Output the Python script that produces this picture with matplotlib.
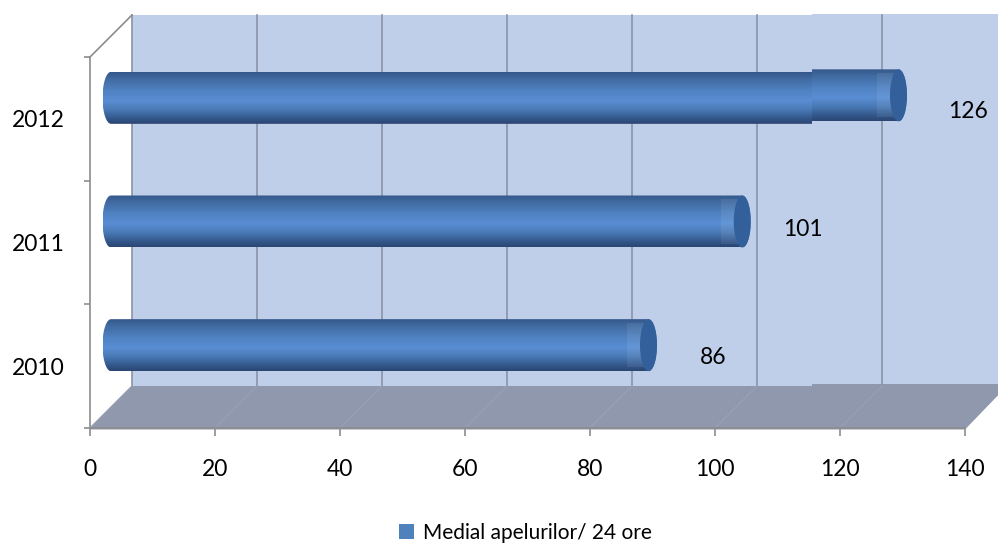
import numpy as np
import matplotlib
matplotlib.use('Agg')
import matplotlib.pyplot as plt
from matplotlib.colors import LinearSegmentedColormap
from matplotlib.patches import Ellipse, PathPatch, Patch, Polygon, Rectangle
from matplotlib.path import Path

plt.rcParams['font.family'] = ['Lato', 'DejaVu Sans']

years = ['2010', '2011', '2012']
apeluri = [86, 101, 126]
x_ticks = [0, 20, 40, 60, 80, 100, 120, 140]
legend_label = 'Medial apelurilor/ 24 ore'

W, H = 998, 543
# front plane of the 3D box, in pixels
left, right, top, bottom = 90, 965, 57, 428
px_x = (right - left) / 140
px_y = (bottom - top) / 3
# box depth and cylinder sizes converted to data units
depth_x = 42 / px_x
depth_y = 42 / px_y
cyl_h = 26 / px_y
cyl_w = 8.5 / px_x
seam = (812 - left) / px_x
seam_shift = 2.5 / px_y

wall_col = '#c0cfe9'
floor_col = '#8f98ad'
grid_col = '#8a94a6'
axis_col = '#8c8c8c'

shade = LinearSegmentedColormap.from_list('cyl', [
    (0.0, '#35588a'), (0.12, '#40699f'), (0.35, '#4f82c2'), (0.55, '#5a8ed4'),
    (0.72, '#4a7ab6'), (0.88, '#345a8e'), (1.0, '#2a4572')])
grad = np.linspace(0, 1, 128).reshape(-1, 1)

fig = plt.figure(figsize=(W / 100, H / 100), dpi=100)
ax = fig.add_axes([left / W, 1 - bottom / H, (right - left) / W, (bottom - top) / H])
ax.patch.set_visible(False)

# back wall, runs off the right edge
x_end = 140 + depth_x
ax.add_patch(Rectangle((depth_x, depth_y), x_end - depth_x, 3, fc=wall_col, ec='none',
                       clip_on=False, zorder=1))
ax.add_patch(Rectangle((seam, depth_y), x_end - seam, 3 + 1 / px_y, fc=wall_col, ec='none',
                       clip_on=False, zorder=1))
# floor
ax.add_patch(Polygon([(0, -1.5 / px_y), (0, 0), (depth_x, depth_y), (x_end, depth_y),
                      (140, -1.5 / px_y)], fc=floor_col, ec='none', clip_on=False, zorder=2))
ax.add_patch(Rectangle((seam, depth_y), x_end - seam, 2 / px_y, fc=floor_col, ec='none',
                       clip_on=False, zorder=2))

# gridlines on the wall and across the floor
for t in x_ticks[:-1]:
    ax.plot([t + depth_x, t + depth_x], [depth_y, 3 + depth_y], color=grid_col, lw=1.2,
            clip_on=False, zorder=3)
    ax.plot([t, t + depth_x], [0, depth_y], color='#98a0b4', lw=1.0, clip_on=False, zorder=3)

# slanted top edge of the side wall
ax.plot([0, depth_x], [3, 3 + depth_y], color=axis_col, lw=1.2, clip_on=False, zorder=3)


def cylinder_outline(x0, x1, yc):
    t = np.linspace(np.pi / 2, 3 * np.pi / 2, 40)
    xs = np.r_[x0 + cyl_w * np.cos(t), x1 - cyl_w * np.cos(t)]
    ys = np.r_[yc + cyl_h * np.sin(t), yc - cyl_h * np.sin(t)]
    return xs, ys


def draw_body(xs, ys, yc, x0, x1):
    im = ax.imshow(grad, cmap=shade, aspect='auto', origin='upper',
                   extent=[x0 - cyl_w, x1 + cyl_w, yc - cyl_h, yc + cyl_h], zorder=4)
    clip = PathPatch(Path(np.c_[xs, ys]), transform=ax.transData, fc='none', ec='none')
    ax.add_patch(clip)
    im.set_clip_path(clip)


# one cylinder per year, sitting at mid depth
for i, val in enumerate(apeluri):
    yc = i + 0.5 + depth_y / 2
    x0 = depth_x / 2
    x1 = val + depth_x / 2
    xs, ys = cylinder_outline(x0, x1, yc)
    if val > seam:
        # the end past x=812 sits slightly higher than the rest of the cylinder
        draw_body(np.minimum(xs, seam), ys, yc, x0, x1)
        draw_body(np.maximum(xs, seam), ys + seam_shift, yc + seam_shift, x0, x1)
        yc += seam_shift
    else:
        draw_body(xs, ys, yc, x0, x1)
    # lighter sheen just before the end cap
    ax.add_patch(Rectangle((x1 - 2.5 * cyl_w, yc - 0.85 * cyl_h), 2.5 * cyl_w, 1.7 * cyl_h,
                           fc='white', alpha=0.07, ec='none', zorder=4.5))
    ax.add_patch(Ellipse((x1, yc), 2 * cyl_w, 2 * cyl_h, fc='#33609a', ec='none',
                         clip_on=False, zorder=5))

# value labels, each placed by hand next to its cylinder
label_dx = [65, 61, 69.5]
label_dy = [12, 8, 14]
for i, val in enumerate(apeluri):
    ax.text(val + depth_x / 2 + label_dx[i] / px_x, i + 0.5 + depth_y / 2 - label_dy[i] / px_y,
            str(val), ha='center', va='center', fontsize=16.5, color='black', clip_on=False, zorder=6)

ax.set_xlim(0, 140)
ax.set_ylim(0, 3)
ax.set_xticks(x_ticks)
ax.set_yticks([0, 1, 2, 3])
ax.set_yticklabels([])
ax.set_yticks([0.5, 1.5, 2.5], labels=years, minor=True)
ax.tick_params(axis='x', length=5.5, width=1.2, color=axis_col, labelsize=16.5, pad=16.5)
ax.tick_params(axis='y', which='major', length=4.5, width=1.2, color=axis_col)
ax.tick_params(axis='y', which='minor', length=0, labelsize=16.5, pad=18)
for s in ['top', 'right']:
    ax.spines[s].set_visible(False)
for s in ['left', 'bottom']:
    ax.spines[s].set_color(axis_col)
    ax.spines[s].set_linewidth(1.2)
    ax.spines[s].set_zorder(3)

handle = Patch(fc='#4f81bd', ec='none')
fig.legend([handle], [legend_label], loc='center', bbox_to_anchor=(525 / W, 1 - 533 / H),
           frameon=False, fontsize=15, handlelength=0.75, handleheight=0.75, handletextpad=0.4,
           borderpad=0)

fig.savefig('out.png', dpi=100)
